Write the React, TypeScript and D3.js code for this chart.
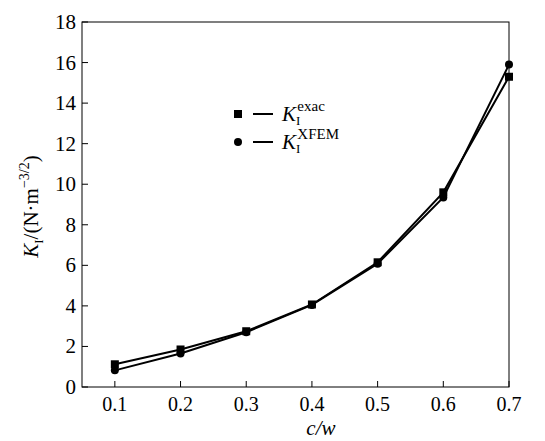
import React, { useEffect, useRef } from "react";
import * as d3 from "d3";

const cwValues = [0.1, 0.2, 0.3, 0.4, 0.5, 0.6, 0.7];
const kExac = [1.12, 1.85, 2.75, 4.07, 6.15, 9.6, 15.3];
const kXfem = [0.82, 1.65, 2.7, 4.05, 6.08, 9.35, 15.9];
const xTicks = [0.1, 0.2, 0.3, 0.4, 0.5, 0.6, 0.7];
const yTicks = [0, 2, 4, 6, 8, 10, 12, 14, 16, 18];

const W = 545;
const H = 441;
const margin = { top: 22, right: 36, bottom: 54, left: 82 };
const FONT = "Liberation Serif, Times New Roman, serif";

export default function App() {
  const svgRef = useRef<SVGSVGElement>(null);

  useEffect(() => {
    const svg = d3.select(svgRef.current);
    svg.selectAll("*").remove();

    const x = d3.scaleLinear().domain([0.05, 0.7]).range([margin.left, W - margin.right]);
    const y = d3.scaleLinear().domain([0, 18]).range([H - margin.bottom, margin.top]);

    const g = svg.append("g").attr("font-family", FONT);

    // frame
    g.append("rect")
      .attr("x", margin.left)
      .attr("y", margin.top)
      .attr("width", W - margin.right - margin.left)
      .attr("height", H - margin.bottom - margin.top)
      .attr("fill", "none")
      .attr("stroke", "#000")
      .attr("stroke-width", 1);

    // x ticks (inward)
    g.selectAll(".xt")
      .data(xTicks)
      .enter()
      .append("line")
      .attr("x1", (d) => x(d))
      .attr("x2", (d) => x(d))
      .attr("y1", H - margin.bottom)
      .attr("y2", H - margin.bottom - 6)
      .attr("stroke", "#000");

    g.selectAll(".xl")
      .data(xTicks)
      .enter()
      .append("text")
      .attr("x", (d) => x(d))
      .attr("y", H - margin.bottom + 24)
      .attr("text-anchor", "middle")
      .attr("font-size", 20)
      .text((d) => d.toFixed(1));

    // y ticks
    g.selectAll(".yt")
      .data(yTicks)
      .enter()
      .append("line")
      .attr("x1", margin.left)
      .attr("x2", margin.left + 6)
      .attr("y1", (d) => y(d))
      .attr("y2", (d) => y(d))
      .attr("stroke", "#000");

    g.selectAll(".yl")
      .data(yTicks)
      .enter()
      .append("text")
      .attr("x", margin.left - 6)
      .attr("y", (d) => y(d) + 7)
      .attr("text-anchor", "end")
      .attr("font-size", 21)
      .text((d) => d);

    const line = d3
      .line<number>()
      .x((d, i) => x(cwValues[i]))
      .y((d) => y(d));

    [kExac, kXfem].forEach((series) => {
      g.append("path")
        .attr("d", line(series))
        .attr("fill", "none")
        .attr("stroke", "#000")
        .attr("stroke-width", 2);
    });

    // markers
    g.selectAll(".sq")
      .data(kExac)
      .enter()
      .append("rect")
      .attr("x", (d, i) => x(cwValues[i]) - 4)
      .attr("y", (d) => y(d) - 4)
      .attr("width", 8)
      .attr("height", 8)
      .attr("fill", "#000");

    g.selectAll(".ci")
      .data(kXfem)
      .enter()
      .append("circle")
      .attr("cx", (d, i) => x(cwValues[i]))
      .attr("cy", (d) => y(d))
      .attr("r", 4)
      .attr("fill", "#000");

    // legend
    const leg = g.append("g").attr("transform", "translate(238,114)");
    leg.append("rect").attr("x", -4).attr("y", -4).attr("width", 8).attr("height", 8).attr("fill", "#000");
    leg.append("circle").attr("cx", 0).attr("cy", 28).attr("r", 4).attr("fill", "#000");
    [0, 28].forEach((dy) => {
      leg.append("line")
        .attr("x1", 15)
        .attr("x2", 35)
        .attr("y1", dy)
        .attr("y2", dy)
        .attr("stroke", "#000")
        .attr("stroke-width", 2);
    });
    const legText = (dy: number, sup: string) => {
      const t = leg.append("text")
        .attr("x", 44)
        .attr("y", dy + 7)
        .attr("font-size", 21);
      t.append("tspan").attr("font-style", "italic").text("K");
      t.append("tspan").attr("dy", 4).attr("font-size", 13).text("I");
      t.append("tspan").attr("dx", -3).attr("dy", -14).attr("font-size", 15).text(sup);
    };
    legText(0, "exac");
    legText(28, "XFEM");

    // y label
    const yl = g.append("text")
      .attr("transform", `translate(38,${(margin.top + H - margin.bottom) / 2 + 2}) rotate(-90)`)
      .attr("text-anchor", "middle")
      .attr("font-size", 21);
    yl.append("tspan").attr("font-style", "italic").text("K");
    yl.append("tspan").attr("dy", 5).attr("font-size", 13).text("I");
    yl.append("tspan").attr("dy", -5).text("/(N·m");
    yl.append("tspan").attr("dy", -9).attr("font-size", 14).text("−3/2");
    yl.append("tspan").attr("dy", 9).text(")");

    // x label
    g.append("text")
      .attr("x", x(0.4) + 9)
      .attr("y", H - 6)
      .attr("text-anchor", "middle")
      .attr("font-size", 21)
      .attr("font-style", "italic")
      .text("c/w");
  }, []);

  return (
    <svg
      ref={svgRef}
      width={W}
      height={H}
      style={{ position: "absolute", left: 0, top: 0, background: "#fff" }}
    />
  );
}
